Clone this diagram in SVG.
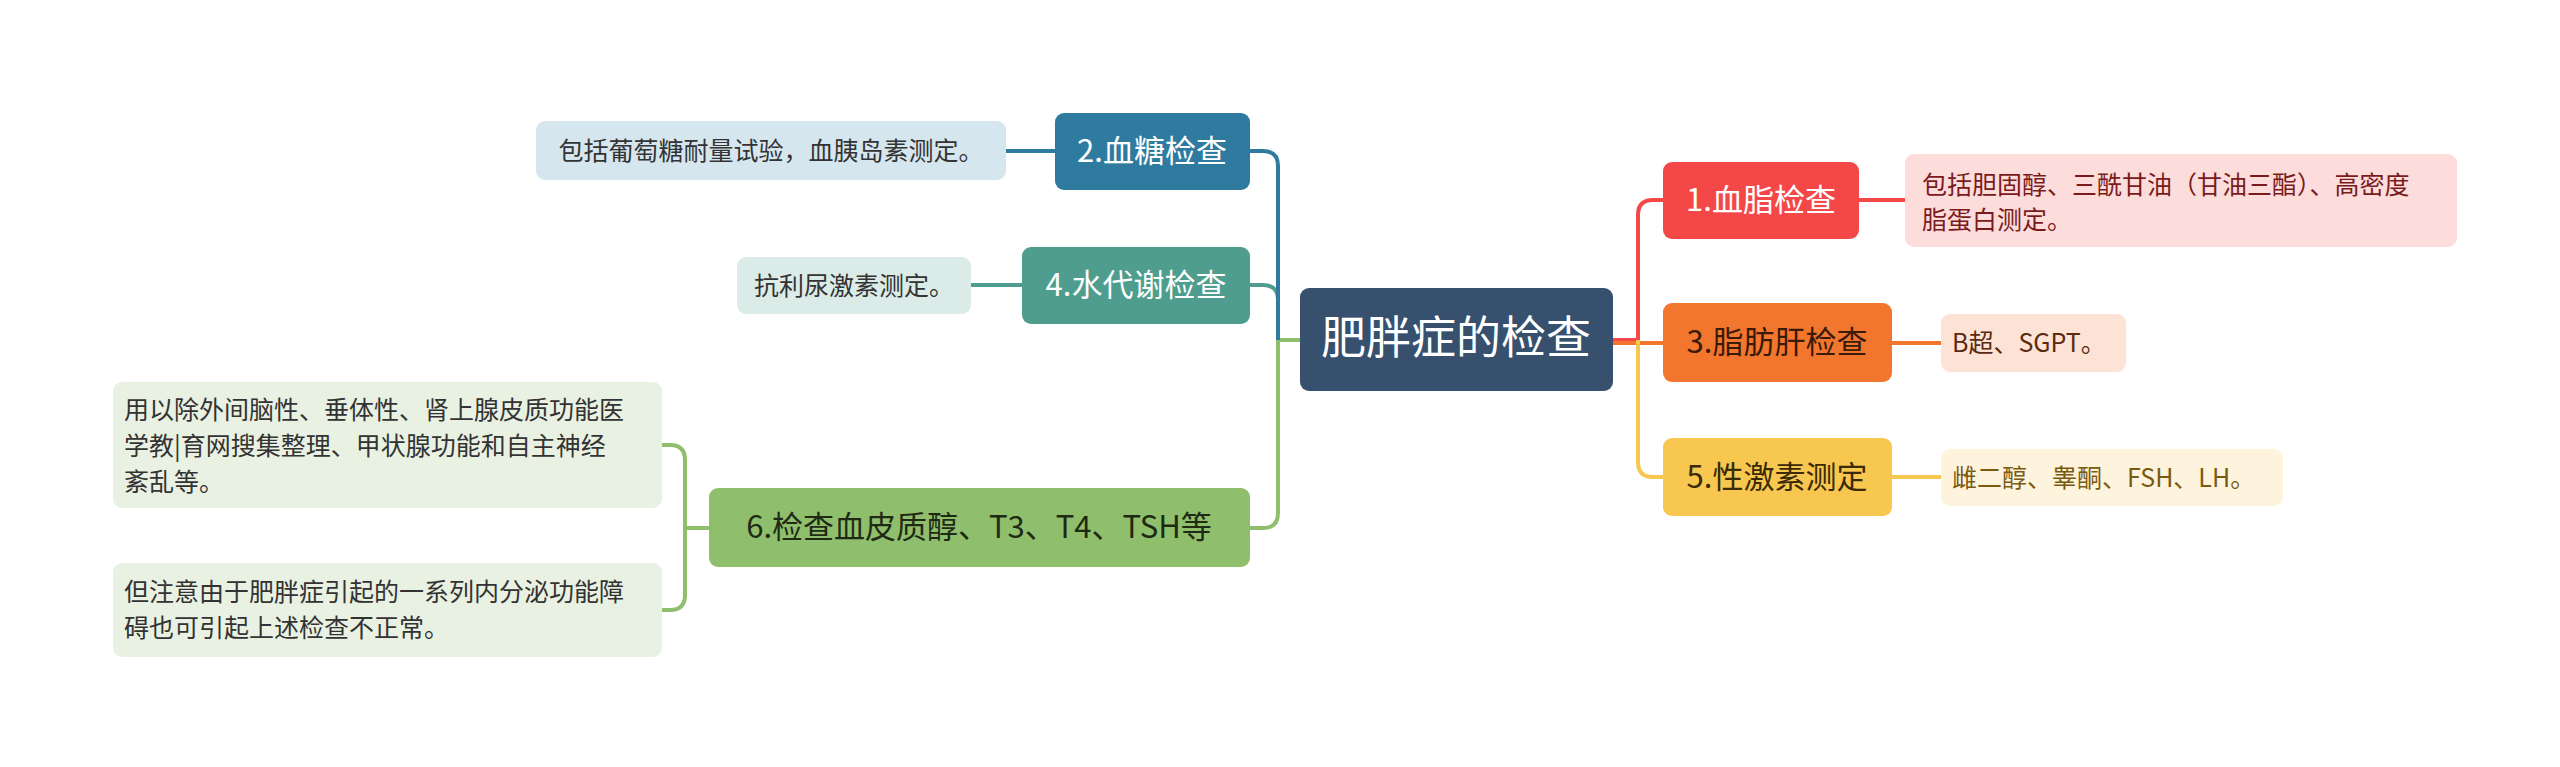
<svg xmlns="http://www.w3.org/2000/svg" width="2560" height="767" viewBox="0 0 2560 767">
<style>
text{font-family:"Noto Sans CJK SC","Noto Sans",sans-serif}
.n{font-size:31px}
.d{font-size:25px}
.c{fill:none;stroke-width:4}
</style>
<rect width="2560" height="767" fill="#fff"/>
<g id="connectors">
<path class="c" stroke="#8fbe6c" d="M1300 340 H1278 V513 Q1278 528 1263 528 H1250"/>
<path class="c" stroke="#4e9d8e" d="M1278 340 V300 Q1278 285 1263 285 H1250"/>
<path class="c" stroke="#2f7ba0" d="M1278 340 V166 Q1278 151 1263 151 H1250"/>
<path class="c" stroke="#f44848" d="M1613 340 H1638 V215 Q1638 200 1653 200 H1663"/>
<path class="c" stroke="#f2762e" d="M1613 343 H1663"/>
<path class="c" stroke="#f7c74f" d="M1638 340 V462 Q1638 477 1653 477 H1663"/>
<path class="c" stroke="#f44848" d="M1859 200 H1905"/>
<path class="c" stroke="#f2762e" d="M1892 343 H1941"/>
<path class="c" stroke="#f7c74f" d="M1892 477 H1941"/>
<path class="c" stroke="#2f7ba0" d="M1055 151 H1006"/>
<path class="c" stroke="#4e9d8e" d="M1022 285 H971"/>
<path class="c" stroke="#8fbe6c" d="M709 528 H685 M662 445 H670 Q685 445 685 460 V595 Q685 610 670 610 H662"/>
</g>
<g id="center"><rect x="1300" y="288" width="313" height="103" rx="9" fill="#36506e"/><text x="1456" y="354" font-size="45" fill="#fff" text-anchor="middle">肥胖症的检查</text></g>
<g id="n1"><rect x="1663" y="162" width="196" height="77" rx="9" fill="#f44848"/><text class="n" x="1761" y="211" fill="#fff" text-anchor="middle">1.血脂检查</text></g>
<g id="d1"><rect x="1905" y="154" width="552" height="93" rx="9" fill="#fddcdc"/><text class="d" x="1922" y="194" fill="#7a1b1b">包括胆固醇、三酰甘油（甘油三酯）、高密度</text><text class="d" x="1922" y="229" fill="#7a1b1b">脂蛋白测定。</text></g>
<g id="n3"><rect x="1663" y="303" width="229" height="79" rx="9" fill="#f2762e"/><text class="n" x="1777" y="353" fill="#3a1a08" text-anchor="middle">3.脂肪肝检查</text></g>
<g id="d3"><rect x="1941" y="314" width="185" height="58" rx="9" fill="#fde3d5"/><text class="d" x="1952" y="352" fill="#5a2a10">B超、SGPT。</text></g>
<g id="n5"><rect x="1663" y="438" width="229" height="78" rx="9" fill="#f7c74f"/><text class="n" x="1777" y="488" fill="#3a2a05" text-anchor="middle">5.性激素测定</text></g>
<g id="d5"><rect x="1941" y="449" width="342" height="57" rx="9" fill="#fef4dd"/><text class="d" x="1952" y="487" fill="#7a5a10">雌二醇、睾酮、FSH、LH。</text></g>
<g id="n2"><rect x="1055" y="113" width="195" height="77" rx="9" fill="#2f7ba0"/><text class="n" x="1152" y="162" fill="#fff" text-anchor="middle">2.血糖检查</text></g>
<g id="d2"><rect x="536" y="121" width="470" height="59" rx="9" fill="#d6e6ee"/><text class="d" x="771" y="160" fill="#333" text-anchor="middle">包括葡萄糖耐量试验，血胰岛素测定。</text></g>
<g id="n4"><rect x="1022" y="247" width="228" height="77" rx="9" fill="#4e9d8e"/><text class="n" x="1136" y="296" fill="#fff" text-anchor="middle">4.水代谢检查</text></g>
<g id="d4"><rect x="737" y="257" width="234" height="57" rx="9" fill="#dbece8"/><text class="d" x="854" y="295" fill="#333" text-anchor="middle">抗利尿激素测定。</text></g>
<g id="n6"><rect x="709" y="488" width="541" height="79" rx="9" fill="#8fbe6c"/><text class="n" x="979" y="538" fill="#1f2a15" text-anchor="middle">6.检查血皮质醇、T3、T4、TSH等</text></g>
<g id="d6a"><rect x="113" y="382" width="549" height="126" rx="9" fill="#e9f1e2"/><text class="d" x="124" y="419" fill="#333">用以除外间脑性、垂体性、肾上腺皮质功能医</text><text class="d" x="124" y="455" fill="#333">学教|育网搜集整理、甲状腺功能和自主神经</text><text class="d" x="124" y="491" fill="#333">紊乱等。</text></g>
<g id="d6b"><rect x="113" y="563" width="549" height="94" rx="9" fill="#e9f1e2"/><text class="d" x="124" y="601" fill="#333">但注意由于肥胖症引起的一系列内分泌功能障</text><text class="d" x="124" y="637" fill="#333">碍也可引起上述检查不正常。</text></g>
</svg>
